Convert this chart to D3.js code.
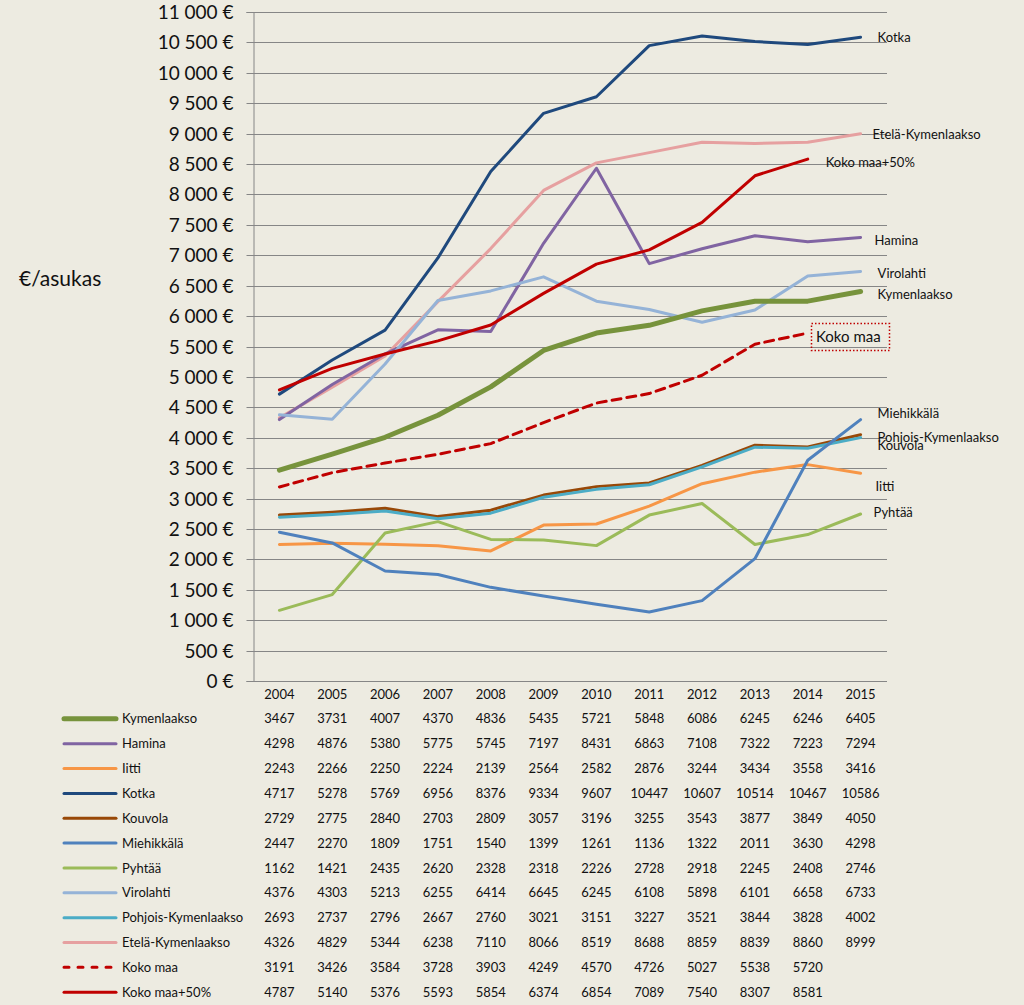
<!DOCTYPE html>
<html><head><meta charset="utf-8">
<script src="https://cdn.jsdelivr.net/npm/d3@7"></script>
<style>
html,body{margin:0;padding:0;background:#EDEBE1;}
svg{display:block;font-family:Lato,"Open Sans",sans-serif;}
</style></head>
<body>
<svg id="c" width="1024" height="1005"></svg>
<script>
const years = ["2004","2005","2006","2007","2008","2009","2010","2011","2012","2013","2014","2015"];
const seriesNames = ["Kymenlaakso","Hamina","Iitti","Kotka","Kouvola","Miehikkälä","Pyhtää","Virolahti","Pohjois-Kymenlaakso","Etelä-Kymenlaakso","Koko maa","Koko maa+50%"];
const kymenlaakso = [3467,3731,4007,4370,4836,5435,5721,5848,6086,6245,6246,6405];
const hamina = [4298,4876,5380,5775,5745,7197,8431,6863,7108,7322,7223,7294];
const iitti = [2243,2266,2250,2224,2139,2564,2582,2876,3244,3434,3558,3416];
const kotka = [4717,5278,5769,6956,8376,9334,9607,10447,10607,10514,10467,10586];
const kouvola = [2729,2775,2840,2703,2809,3057,3196,3255,3543,3877,3849,4050];
const miehikkala = [2447,2270,1809,1751,1540,1399,1261,1136,1322,2011,3630,4298];
const pyhtaa = [1162,1421,2435,2620,2328,2318,2226,2728,2918,2245,2408,2746];
const virolahti = [4376,4303,5213,6255,6414,6645,6245,6108,5898,6101,6658,6733];
const pohjoisKymenlaakso = [2693,2737,2796,2667,2760,3021,3151,3227,3521,3844,3828,4002];
const etelaKymenlaakso = [4326,4829,5344,6238,7110,8066,8519,8688,8859,8839,8860,8999];
const kokoMaa = [3191,3426,3584,3728,3903,4249,4570,4726,5027,5538,5720,null];
const kokoMaa50 = [4787,5140,5376,5593,5854,6374,6854,7089,7540,8307,8581,null];
const yTicks = [0,500,1000,1500,2000,2500,3000,3500,4000,4500,5000,5500,6000,6500,7000,7500,8000,8500,9000,9500,10000,10500,11000];
const yAxisTitle = "€/asukas";

const values = [kymenlaakso,hamina,iitti,kotka,kouvola,miehikkala,pyhtaa,virolahti,pohjoisKymenlaakso,etelaKymenlaakso,kokoMaa,kokoMaa50];

(function(){
// styling (not data)
const styles = {
  "Kymenlaakso":{c:"#77933C",w:5},
  "Hamina":{c:"#8064A2",w:3},
  "Iitti":{c:"#F79646",w:3},
  "Kotka":{c:"#1F497D",w:3},
  "Kouvola":{c:"#984807",w:3},
  "Miehikkälä":{c:"#4F81BD",w:3},
  "Pyhtää":{c:"#9BBB59",w:3},
  "Virolahti":{c:"#95B3D7",w:3},
  "Pohjois-Kymenlaakso":{c:"#4BACC6",w:3},
  "Etelä-Kymenlaakso":{c:"#E6A0A0",w:3},
  "Koko maa":{c:"#C00000",w:3,dash:"9,6"},
  "Koko maa+50%":{c:"#C00000",w:3}
};
// label placement offsets from last point (dx, dy)
const labelOff = {
  "Kotka":[17,0],"Etelä-Kymenlaakso":[12,1],"Koko maa+50%":[18,3],"Hamina":[14,3],
  "Virolahti":[17,2],"Kymenlaakso":[17,3],"Miehikkälä":[17,-6],"Pohjois-Kymenlaakso":[17,0],
  "Kouvola":[17,11],"Iitti":[15,13],"Pyhtää":[13,-2]
};

const svg = d3.select("#c");
const pL = 253, pR = 887, pT = 12, pB = 681;
const x = d3.scaleBand().domain(years).range([pL,pR]);
const y = d3.scaleLinear().domain([0,11000]).range([pB,pT]);
const fmt = v => d3.format(",")(v).replace(/,/g," ") + " €";

// gridlines
svg.append("g").selectAll("line").data(yTicks).join("line")
  .attr("x1",pL).attr("x2",pR).attr("y1",d=>Math.round(y(d))+0.5).attr("y2",d=>Math.round(y(d))+0.5)
  .attr("stroke","#868686").attr("stroke-width",1);

// y axis
const ya = svg.append("g").attr("transform",`translate(${pL+0.5},0)`)
  .call(d3.axisLeft(y).tickValues(yTicks).tickFormat(fmt).tickSize(7).tickPadding(13));
ya.select(".domain").attr("stroke","#868686");
ya.selectAll(".tick line").attr("stroke","#868686");
ya.selectAll(".tick text").attr("font-size",19).attr("fill","#111").attr("font-family","Lato, sans-serif");
ya.selectAll(".tick").attr("transform",d=>`translate(0,${Math.round(y(d))+0.5})`);

// x axis line
svg.append("line").attr("x1",pL).attr("x2",pR).attr("y1",pB+0.5).attr("y2",pB+0.5).attr("stroke","#868686");

svg.append("text").attr("x",19).attr("y",286).attr("font-size",21).attr("fill","#111").text(yAxisTitle);

// lines
const line = d3.line().defined(d=>d.v!=null).x(d=>x(d.yr)+x.bandwidth()/2).y(d=>y(d.v));
const order = [9,3,1,7,11,0,10,4,8,2,6,5];
order.forEach(i=>{
  const name = seriesNames[i], s = styles[name];
  const pts = years.map((yr,j)=>({yr,v:values[i][j]}));
  svg.append("path").datum(pts).attr("d",line).attr("fill","none")
    .attr("stroke",s.c).attr("stroke-width",s.w).attr("stroke-linejoin","round").attr("stroke-linecap","round")
    .attr("stroke-dasharray",s.dash||null);
});

// end labels
seriesNames.forEach((name,i)=>{
  const vals = values[i];
  let j = vals.length-1; while(vals[j]==null) j--;
  const px = x(years[j])+x.bandwidth()/2, py = y(vals[j]);
  if(name==="Koko maa"){
    svg.append("rect").attr("x",811.5).attr("y",py-9.5).attr("width",78).attr("height",27)
      .attr("fill","none").attr("stroke","#C00000").attr("stroke-width",1.5).attr("stroke-dasharray","1.5,2");
    svg.append("text").attr("x",816).attr("y",py+9).attr("font-size",15).attr("fill","#111").text(name);
    return;
  }
  const o = labelOff[name];
  svg.append("text").attr("x",px+o[0]).attr("y",py+o[1]).attr("dy","0.35em")
    .attr("font-size",13).attr("fill","#111").text(name);
});

// data table
const rowY0 = 694, rowH = 24.85;
svg.append("g").selectAll("text").data(years).join("text")
  .attr("x",d=>x(d)+x.bandwidth()/2).attr("y",rowY0).attr("dy","0.35em").attr("text-anchor","middle")
  .attr("font-size",13).attr("fill","#111").text(d=>d);
seriesNames.forEach((name,i)=>{
  const ry = rowY0 + rowH*(i+1);
  const s = styles[name];
  svg.append("line").attr("x1",64).attr("x2",116).attr("y1",ry).attr("y2",ry)
    .attr("stroke",s.c).attr("stroke-width",s.w).attr("stroke-linecap","round")
    .attr("stroke-dasharray",s.dash? "5,9":null);
  svg.append("text").attr("x",122).attr("y",ry).attr("dy","0.35em").attr("font-size",13).attr("fill","#111").text(name);
  svg.append("g").selectAll("text").data(years.map((yr,j)=>({yr,v:values[i][j]})).filter(d=>d.v!=null)).join("text")
    .attr("x",d=>x(d.yr)+x.bandwidth()/2).attr("y",ry).attr("dy","0.35em").attr("text-anchor","middle")
    .attr("font-size",13).attr("fill","#111").text(d=>d.v);
});
})();
</script>
</body></html>
